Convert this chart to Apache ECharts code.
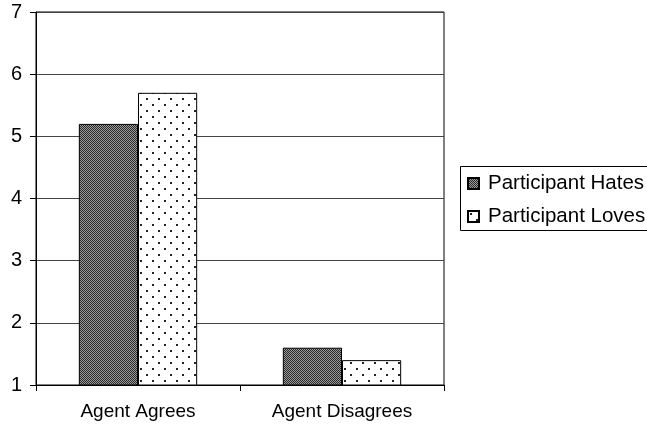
<!DOCTYPE html>
<html>
<head>
<meta charset="utf-8">
<script src="https://cdn.jsdelivr.net/npm/echarts@6/dist/echarts.min.js"></script>
<style>
html,body{margin:0;padding:0;background:#fff;}
#chart{width:647px;height:427px;}
</style>
</head>
<body>
<div id="chart"></div>
<script>
const categories = ['Agent Agrees', 'Agent Disagrees'];
const seriesNames = ['Participant Hates', 'Participant Loves'];
const hatesValues = [5.2, 1.6];
const lovesValues = [5.7, 1.4];
const yTicks = [1, 2, 3, 4, 5, 6, 7];

// Fine checkered fill
function checkerPattern() {
  const c = document.createElement('canvas');
  c.width = 2; c.height = 2;
  const g = c.getContext('2d');
  g.fillStyle = '#9a9a9a'; g.fillRect(0, 0, 2, 2);
  g.fillStyle = '#2a2a2a'; g.fillRect(0, 0, 1, 1); g.fillRect(1, 1, 1, 1);
  return c;
}
// Sparse staggered dots on white
function dotPattern() {
  const c = document.createElement('canvas');
  c.width = 12; c.height = 12;
  const g = c.getContext('2d');
  g.fillStyle = '#ffffff'; g.fillRect(0, 0, 12, 12);
  g.fillStyle = '#222222';
  g.fillRect(2, 2, 2, 2);
  g.fillRect(8, 8, 2, 2);
  return c;
}

const chart = echarts.init(document.getElementById('chart'), null, {renderer: 'canvas'});
const font = 'Liberation Sans, Arial, sans-serif';

chart.setOption({
  animation: false,
  backgroundColor: '#fff',
  grid: {left: 36, top: 12, width: 408, height: 373, show: true, borderColor: '#000', borderWidth: 1, backgroundColor: 'transparent'},
  // legend frame runs past the right edge of the canvas
  graphic: [{
    type: 'rect', z: 0, silent: true,
    shape: {x: 460.5, y: 166.5, width: 240, height: 64},
    style: {fill: '#fff', stroke: '#000', lineWidth: 1}
  }],
  legend: {
    left: 460, top: 166,
    orient: 'vertical',
    data: seriesNames,
    itemWidth: 11, itemHeight: 11, itemGap: 12,
    icon: 'rect',
    padding: [7, 40, 4, 7],
    textStyle: {fontFamily: font, fontSize: 20.5, lineHeight: 20, color: '#000', padding: [0, 0, 0, 4]}
  },
  xAxis: {
    type: 'category',
    data: categories,
    axisLine: {lineStyle: {color: '#000', width: 1}},
    axisTick: {show: true, length: 6, lineStyle: {color: '#000'}},
    axisLabel: {fontFamily: font, fontSize: 19, color: '#000', margin: 17}
  },
  yAxis: {
    type: 'value',
    min: yTicks[0], max: yTicks[yTicks.length - 1], interval: 1,
    axisLine: {show: true, lineStyle: {color: '#000', width: 1}},
    axisTick: {show: true, length: 6, lineStyle: {color: '#000'}},
    axisLabel: {fontFamily: font, fontSize: 20, color: '#000', margin: 14},
    splitLine: {lineStyle: {color: '#444', width: 1}}
  },
  series: [
    {
      name: seriesNames[0], type: 'bar', data: hatesValues,
      barGap: '0%', barCategoryGap: '42%',
      itemStyle: {color: {image: checkerPattern(), repeat: 'repeat'}, borderColor: '#000', borderWidth: 1}
    },
    {
      name: seriesNames[1], type: 'bar', data: lovesValues,
      barGap: '0%', barCategoryGap: '42%',
      itemStyle: {color: {image: dotPattern(), repeat: 'repeat'}, borderColor: '#000', borderWidth: 1}
    }
  ]
});
</script>
</body>
</html>
